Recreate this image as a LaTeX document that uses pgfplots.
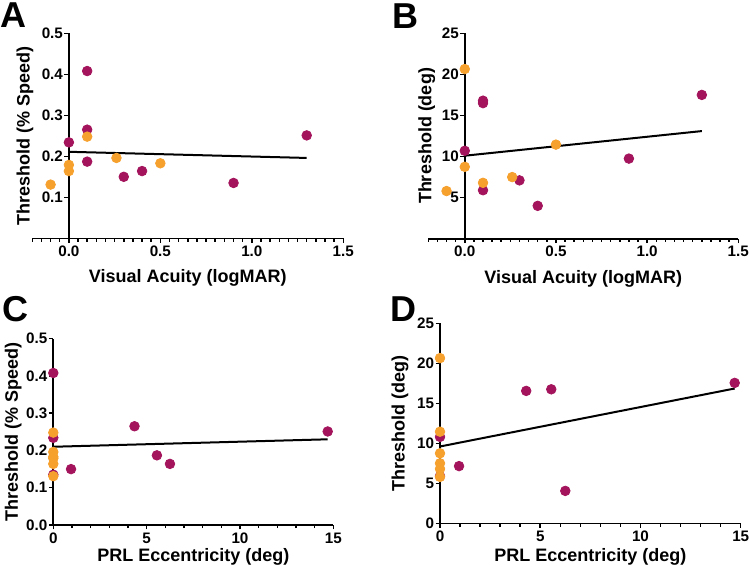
\documentclass[border=0pt]{standalone}
\usepackage{pgfplots}
\pgfplotsset{compat=1.18}
\usepackage{fontspec}
\setmainfont{Liberation Sans}

\definecolor{purp}{HTML}{A3145C}
\definecolor{oran}{HTML}{F6A02E}
\newcommand\tickfont{\bfseries\fontsize{7.6}{8}\selectfont}
\newcommand\labfont{\bfseries\fontsize{9}{10}\selectfont}

\pgfplotsset{
  panel/.style={
    scale only axis, anchor=south west, clip=false,
    axis x line*=bottom,
    axis line style={line width=0.8pt, black},
    tick align=outside,
    major tick length=2.2pt, minor tick length=1.6pt,
    every tick/.style={draw=black, line width=0.75pt},
    xticklabel style={font=\tickfont, inner sep=1.4pt},
    yticklabel style={font=\tickfont, inner sep=0.6pt},
    /pgf/number format/assume math mode=true,
    hide obscured x ticks=false, hide obscured y ticks=false,
  },
  onedec/.style={/pgf/number format/.cd, fixed, fixed zerofill, precision=1},
  xlab/.style={every axis x label/.style={at={(axis description cs:0.5,0)}, anchor=center, yshift=#1, font=\labfont}},
  ylab/.style={every axis y label/.style={at={(axis description cs:#1,0.5)}, anchor=center, rotate=90, font=\labfont}},
  pts/.style={only marks, mark=*, mark size=2.4pt, color=#1},
  fit/.style={black, line width=1pt, no marks},
}

\begin{document}
\begin{tikzpicture}
\path[use as bounding box] (0,0) rectangle (374.5pt,284pt);

% A
\begin{axis}[panel, at={(16.15pt,164.85pt)}, width=155.5pt, height=102.5pt,
  axis y line*=middle,
  xmin=-0.2, xmax=1.5, ymin=0, ymax=0.5,
  xtick={0,0.5,1,1.5}, minor xtick={-0.2,-0.15,...,1.5},
  ytick={0.1,0.2,0.3,0.4,0.5},
  xticklabel style={onedec}, yticklabel style={onedec},
  xlabel={Visual Acuity (logMAR)}, ylabel={Threshold (\% Speed)},
  xlab=-20pt, ylab=-0.0232,
]
\addplot[fit] coordinates {(0,0.211) (1.3,0.196)};
\addplot[pts=purp] coordinates {(0.1,0.408) (0.1,0.265) (0,0.234) (0.1,0.187) (0.3,0.150) (0.4,0.164) (0.9,0.135) (1.3,0.251)};
\addplot[pts=oran] coordinates {(-0.1,0.131) (0,0.179) (0,0.164) (0.1,0.248) (0.26,0.196) (0.5,0.183)};
\end{axis}

% B
\begin{axis}[panel, at={(214.15pt,164.65pt)}, width=155pt, height=102.7pt,
  axis y line*=middle,
  xmin=-0.2, xmax=1.5, ymin=0, ymax=25,
  xtick={0,0.5,1,1.5}, minor xtick={-0.2,-0.15,...,1.5},
  ytick={5,10,15,20,25},
  xticklabel style={onedec},
  xlabel={Visual Acuity (logMAR)}, ylabel={Threshold (deg)},
  xlab=-20pt, ylab=-0.005,
]
\addplot[fit] coordinates {(0,10.1) (1.3,13.1)};
\addplot[pts=purp] coordinates {(0,10.7) (0.1,16.5) (0.1,16.8) (0.1,5.9) (0.3,7.1) (0.4,4.0) (0.9,9.75) (1.3,17.5)};
\addplot[pts=oran] coordinates {(-0.1,5.8) (0,20.65) (0,8.75) (0.1,6.8) (0.26,7.5) (0.5,11.45)};
\end{axis}

% C
\begin{axis}[panel, at={(26.65pt,21.5pt)}, width=140pt, height=93.15pt,
  axis y line*=left,
  xmin=0, xmax=15, ymin=0, ymax=0.5,
  xtick={0,5,10,15}, minor x tick num=4,
  ytick={0,0.1,0.2,0.3,0.4,0.5},
  yticklabel style={onedec},
  xlabel={PRL Eccentricity (deg)}, ylabel={Threshold (\% Speed)},
  xlab=-15.8pt, ylab=-0.143,
]
\addplot[fit] coordinates {(0,0.21) (14.7,0.23)};
\addplot[pts=purp] coordinates {(0,0.408) (0,0.234) (0,0.135) (0.95,0.150) (4.35,0.265) (5.55,0.187) (6.25,0.164) (14.7,0.251)};
\addplot[pts=oran] coordinates {(0,0.131) (0,0.179) (0,0.164) (0,0.248) (0,0.196) (0,0.183)};
\end{axis}

% D
\begin{axis}[panel, at={(220pt,22.35pt)}, width=150.35pt, height=100pt,
  axis y line*=left,
  xmin=0, xmax=15, ymin=0, ymax=25,
  xtick={0,5,10,15}, minor x tick num=4,
  ytick={0,5,10,15,20,25},
  xlabel={PRL Eccentricity (deg)}, ylabel={Threshold (deg)},
  xlab=-16.7pt, ylab=-0.133,
]
\addplot[fit] coordinates {(0,9.6) (14.7,16.85)};
\addplot[pts=purp] coordinates {(0,10.8) (0,5.9) (0.95,7.15) (4.3,16.55) (5.55,16.75) (6.25,4.05) (14.7,17.55)};
\addplot[pts=oran] coordinates {(0,20.65) (0,11.45) (0,8.75) (0,7.5) (0,6.8) (0,5.8)};
\end{axis}

% panel letters
\begin{scope}[every node/.style={font=\bfseries\fontsize{18}{18}\selectfont, inner sep=0pt, anchor=base west}]
\node at (0pt,270pt) {A};
\node at (196pt,269.5pt) {B};
\node at (1pt,123pt) {C};
\node at (195pt,123pt) {D};
\end{scope}
\end{tikzpicture}
\end{document}
